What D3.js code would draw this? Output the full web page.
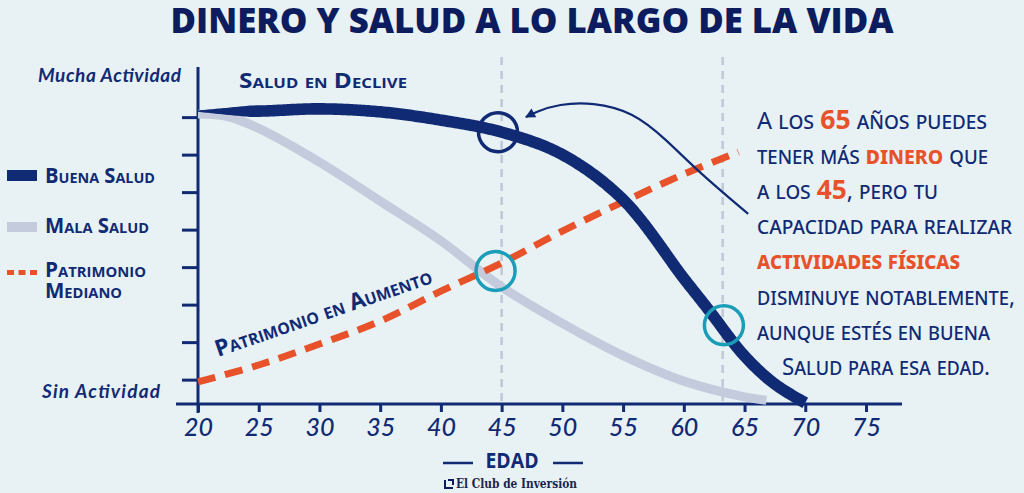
<!DOCTYPE html>
<html>
<head>
<meta charset="utf-8">
<script src="https://cdn.jsdelivr.net/npm/d3@7"></script>
<style>
  html, body { margin: 0; padding: 0; background: #e8f2f4; }
  svg { display: block; }
</style>
</head>
<body>
<div class="chart"></div>
<script>
const navy = "#112a74",
      navyDark = "#0d1c5e",
      grey = "#c3cbdc",
      orange = "#e8522a",
      cyan = "#1b9db8",
      bg = "#e8f2f4";

// values (age, activity 0-100)
const buenaAges   = [20, 25, 30, 35, 40, 45, 50, 55, 60, 62, 65, 67.5, 70];
const buenaValues = [78.1, 78.1, 78.7, 77.9, 75.7, 72.5, 66.5, 54.5, 33.5, 25.3, 12.8, 5.3, 0.3];
const malaAges    = [20, 22.5, 25, 30, 35, 40, 45, 50, 55, 60, 65, 66.8];
const malaValues  = [77.3, 76.6, 73.5, 64.5, 54.1, 43.5, 31.2, 21.5, 12.9, 6.1, 1.9, 1.0];
const patriAges   = [20, 25, 30, 35, 40, 45, 50, 55, 60, 64.5];
const patriValues = [5.9, 10.4, 16, 22.1, 30.1, 37.6, 46.1, 53.9, 61.3, 67.2];

const xTicks = [20, 25, 30, 35, 40, 45, 50, 55, 60, 65, 70, 75];
const yTicks = [6.5, 16.5, 26.5, 36.5, 46.5, 56.5, 66.5, 76.5];
const refAges = [45, 63.2];

const markers = [
  {age: 44.7, value: 72.5, color: navy},
  {age: 44.5, value: 35.5, color: cyan},
  {age: 63.3, value: 21, color: cyan}
];
const arrowPts = [[65.3, 50.7], [61.2, 61.9], [58.5, 70.7], [55.8, 77.9], [52.5, 80.5], [49.7, 80], [47.8, 77.9], [47.0, 76.5]];

const noteLines = [
  [["A los ", 0], ["65", 1], [" años puedes", 0]],
  [["tener más ", 0], ["dinero", 1], [" que", 0]],
  [["a los ", 0], ["45", 1], [", pero tu", 0]],
  [["capacidad para realizar", 0]],
  [["actividades físicas", 1]],
  [["disminuye notablemente,", 0]],
  [["aunque estés en buena", 0]],
  [["Salud para esa edad.", 0]]
];
const noteWidths = [230, 231, 181, 255, 203, 258, 233, 208];

const width = 1024, height = 493;

const x = d3.scaleLinear().domain([20, 75]).range([198, 866]);
const y = d3.scaleLinear().domain([0, 100]).range([404, 29]);

const svg = d3.select(".chart").append("svg")
    .attr("width", width)
    .attr("height", height)
    .style("background", bg);

// title
svg.append("text")
    .attr("x", 532).attr("y", 33)
    .attr("text-anchor", "middle")
    .attr("font-family", "Open Sans")
    .attr("font-weight", 800)
    .attr("font-size", 35)
    .attr("fill", navyDark)
    .attr("textLength", 723)
    .attr("lengthAdjust", "spacingAndGlyphs")
    .text("DINERO Y SALUD A LO LARGO DE LA VIDA");

// dashed reference lines
svg.append("g")
  .selectAll("line")
  .data(refAges)
  .join("line")
    .attr("x1", d => x(d)).attr("x2", d => x(d))
    .attr("y1", 57).attr("y2", y(0))
    .attr("stroke", "#bfc7d8")
    .attr("stroke-width", 2.5)
    .attr("stroke-dasharray", "8,6");

// axes
const yAxis = svg.append("g").attr("transform", `translate(${x(20)},0)`)
    .call(d3.axisLeft(y).tickValues(yTicks).tickSize(16).tickFormat(""));
yAxis.select(".domain").remove();
yAxis.selectAll(".tick line").attr("stroke", navy).attr("stroke-width", 3);
svg.append("line")
    .attr("x1", x(20)).attr("x2", x(20))
    .attr("y1", 67).attr("y2", 413)
    .attr("stroke", navy).attr("stroke-width", 3);

const xAxis = svg.append("g").attr("transform", `translate(0,${y(0)})`)
    .call(d3.axisBottom(x).tickValues(xTicks).tickSize(8).tickPadding(6));
xAxis.select(".domain").remove();
xAxis.selectAll(".tick line").attr("stroke", navy).attr("stroke-width", 3);
xAxis.selectAll(".tick text")
    .attr("fill", navy)
    .attr("font-family", "Lato")
    .attr("font-style", "italic")
    .attr("font-weight", 500)
    .attr("font-size", 25);
svg.append("line")
    .attr("x1", 176).attr("x2", 902)
    .attr("y1", y(0)).attr("y2", y(0))
    .attr("stroke", navy).attr("stroke-width", 3);

// y labels
svg.append("g")
    .attr("font-family", "Lato")
    .attr("font-style", "italic")
    .attr("font-weight", 700)
    .attr("font-size", 19)
    .attr("fill", navy)
  .selectAll("text")
  .data([["Mucha Actividad", 38, 82, 143], ["Sin Actividad", 42, 398, 118]])
  .join("text")
    .attr("x", d => d[1]).attr("y", d => d[2])
    .attr("textLength", d => d[3])
    .text(d => d[0]);

// lines
const line = d3.line()
    .curve(d3.curveCatmullRom.alpha(0.5))
    .x(d => x(d[0]))
    .y(d => y(d[1]));

svg.append("path")
    .attr("d", line(d3.zip(malaAges, malaValues)))
    .attr("fill", "none")
    .attr("stroke", grey)
    .attr("stroke-width", 9);

svg.append("path")
    .attr("d", line(d3.zip(patriAges, patriValues)))
    .attr("fill", "none")
    .attr("stroke", orange)
    .attr("stroke-width", 7)
    .attr("stroke-dasharray", "18,10");

// good health line, tapered at its start
const guide = svg.append("path")
    .attr("d", line(d3.zip(buenaAges, buenaValues)))
    .attr("fill", "none")
    .attr("stroke", "none");
const node = guide.node(),
      total = node.getTotalLength();
const samples = d3.range(0, total + 1, 2).map(s => {
  const p = node.getPointAtLength(Math.min(s, total)),
        q = node.getPointAtLength(Math.min(s + 1, total)),
        r = node.getPointAtLength(Math.max(s - 1, 0));
  const dx = q.x - r.x, dy = q.y - r.y, len = Math.hypot(dx, dy) || 1;
  const w = 5.8 * Math.min(1, 0.12 + s / 60);
  return {x: p.x, y: p.y, nx: -dy / len * w, ny: dx / len * w};
});
const outline = samples.map(d => [d.x + d.nx, d.y + d.ny])
  .concat(samples.slice().reverse().map(d => [d.x - d.nx, d.y - d.ny]));
svg.append("path")
    .attr("d", "M" + outline.join("L") + "Z")
    .attr("fill", navy);

// markers
svg.append("g")
  .selectAll("circle")
  .data(markers)
  .join("circle")
    .attr("cx", d => x(d.age))
    .attr("cy", d => y(d.value))
    .attr("r", 19.5)
    .attr("fill", "none")
    .attr("stroke", d => d.color)
    .attr("stroke-width", 3.5);

// arrow
svg.append("defs").append("marker")
    .attr("id", "arrowhead")
    .attr("viewBox", "0 0 10 10")
    .attr("refX", 9).attr("refY", 5)
    .attr("markerWidth", 11).attr("markerHeight", 10)
    .attr("markerUnits", "userSpaceOnUse")
    .attr("orient", "auto")
  .append("path")
    .attr("d", "M0,0L10,5L0,10Z")
    .attr("fill", navy);

svg.append("path")
    .attr("d", d3.line().curve(d3.curveBasis).x(d => x(d[0])).y(d => y(d[1]))(arrowPts))
    .attr("fill", "none")
    .attr("stroke", navy)
    .attr("stroke-width", 2.2)
    .attr("marker-end", "url(#arrowhead)");

// series captions
const caption = svg.append("g")
    .attr("font-family", "Open Sans")
    .attr("font-weight", 700)
    .attr("font-variant", "small-caps")
    .attr("fill", navy);

caption.append("text")
    .attr("x", 239).attr("y", 88)
    .attr("font-size", 22)
    .attr("textLength", 168)
    .attr("lengthAdjust", "spacingAndGlyphs")
    .text("Salud en Declive");

caption.append("text")
    .attr("transform", "translate(218,357) rotate(-19)")
    .attr("font-size", 23)
    .attr("textLength", 228)
    .attr("lengthAdjust", "spacingAndGlyphs")
    .text("Patrimonio en Aumento");

// legend
const legend = svg.append("g");
legend.append("rect").attr("x", 7).attr("y", 170).attr("width", 30).attr("height", 11).attr("fill", navy);
legend.append("rect").attr("x", 7).attr("y", 222).attr("width", 30).attr("height", 10).attr("fill", grey);
legend.append("line")
    .attr("x1", 7).attr("x2", 37).attr("y1", 272.5).attr("y2", 272.5)
    .attr("stroke", orange).attr("stroke-width", 5).attr("stroke-dasharray", "7,4.5");

legend.append("g")
    .attr("font-family", "Open Sans")
    .attr("font-weight", 700)
    .attr("font-variant", "small-caps")
    .attr("font-size", 21)
    .attr("fill", navy)
  .selectAll("text")
  .data([["Buena Salud", 183, 110], ["Mala Salud", 233, 104], ["Patrimonio", 277, 101], ["Mediano", 298, 77]])
  .join("text")
    .attr("x", 45).attr("y", d => d[1])
    .attr("textLength", d => d[2])
    .attr("lengthAdjust", "spacingAndGlyphs")
    .text(d => d[0]);

// note
const note = svg.append("g")
    .attr("font-family", "Noto Sans")
    .attr("font-variant", "small-caps")
    .attr("font-size", 24)
    .attr("fill", navy);

note.selectAll("text")
  .data(noteLines)
  .join("text")
    .attr("x", (d, i) => i === 7 ? 782 : 757)
    .attr("y", (d, i) => 129 + i * 35.1)
    .attr("textLength", (d, i) => noteWidths[i])
    .attr("lengthAdjust", "spacingAndGlyphs")
  .selectAll("tspan")
  .data(d => d)
  .join("tspan")
    .attr("fill", d => d[1] ? orange : null)
    .attr("font-weight", d => d[1] ? 700 : null)
    .attr("font-size", d => d[1] && /\d/.test(d[0]) ? 27 : null)
    .text(d => d[0]);

// x title
const xt = svg.append("g").attr("fill", navy);
xt.append("text")
    .attr("x", 512).attr("y", 468)
    .attr("text-anchor", "middle")
    .attr("font-family", "Open Sans")
    .attr("font-weight", 700)
    .attr("font-size", 21)
    .attr("textLength", 53)
    .attr("lengthAdjust", "spacingAndGlyphs")
    .text("EDAD");
xt.selectAll("line")
  .data([[443, 473], [553, 583]])
  .join("line")
    .attr("x1", d => d[0]).attr("x2", d => d[1])
    .attr("y1", 463).attr("y2", 463)
    .attr("stroke", navy).attr("stroke-width", 2.5);

// footer
svg.append("path")
    .attr("d", "M445,480V488H453M448,480H453V485")
    .attr("fill", "none")
    .attr("stroke", navyDark)
    .attr("stroke-width", 2);
svg.append("text")
    .attr("x", 456).attr("y", 488)
    .attr("font-family", "DejaVu Serif")
    .attr("font-weight", 700)
    .attr("font-size", 12)
    .attr("fill", "#1c2550")
    .attr("textLength", 121)
    .attr("lengthAdjust", "spacingAndGlyphs")
    .text("El Club de Inversión");
</script>
</body>
</html>
